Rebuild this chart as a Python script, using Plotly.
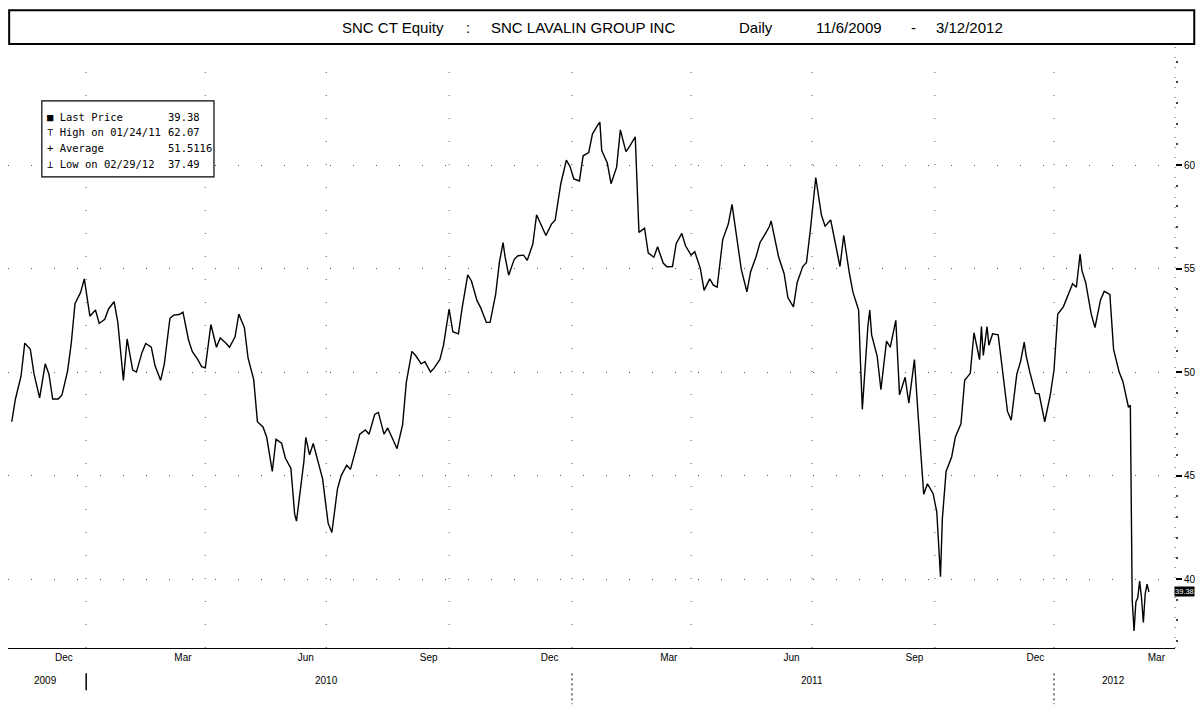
import plotly.graph_objects as go

# ---------------- data ----------------
dates_2009 = ["2009-11-06", "2009-11-10", "2009-11-13", "2009-11-17", "2009-11-20", "2009-11-24",
              "2009-11-27", "2009-12-01", "2009-12-02", "2009-12-04", "2009-12-08", "2009-12-11",
              "2009-12-15", "2009-12-18", "2009-12-22", "2009-12-24", "2009-12-29", "2009-12-31"]
close_2009 = [47.6, 48.7, 49.8, 51.4, 51.1, 49.9,
              48.75, 49.8, 50.4, 49.9, 48.7, 48.7,
              48.9, 50.05, 51.4, 53.3, 53.85, 54.5]

dates_2010 = ["2010-01-05", "2010-01-08", "2010-01-12", "2010-01-15", "2010-01-19", "2010-01-22",
              "2010-01-26", "2010-01-29", "2010-02-02", "2010-02-05", "2010-02-09", "2010-02-12",
              "2010-02-16", "2010-02-19", "2010-02-23", "2010-02-26", "2010-03-02", "2010-03-05",
              "2010-03-09", "2010-03-12", "2010-03-16", "2010-03-19", "2010-03-23", "2010-03-26",
              "2010-03-30", "2010-04-01", "2010-04-06", "2010-04-09", "2010-04-13", "2010-04-16",
              "2010-04-20", "2010-04-23", "2010-04-27", "2010-04-30", "2010-05-04", "2010-05-07",
              "2010-05-11", "2010-05-14", "2010-05-18", "2010-05-21", "2010-05-25", "2010-05-28",
              "2010-06-01", "2010-06-04", "2010-06-08", "2010-06-09", "2010-06-11", "2010-06-15",
              "2010-06-16", "2010-06-18", "2010-06-22", "2010-06-25", "2010-06-29", "2010-07-02",
              "2010-07-06", "2010-07-09", "2010-07-13", "2010-07-16", "2010-07-20", "2010-07-23",
              "2010-07-27", "2010-07-30", "2010-08-03", "2010-08-06", "2010-08-10", "2010-08-13",
              "2010-08-17", "2010-08-20", "2010-08-24", "2010-08-27", "2010-08-31", "2010-09-03",
              "2010-09-07", "2010-09-10", "2010-09-14", "2010-09-17", "2010-09-21", "2010-09-24",
              "2010-09-28", "2010-10-01", "2010-10-05", "2010-10-08", "2010-10-12", "2010-10-15",
              "2010-10-19", "2010-10-22", "2010-10-26", "2010-10-29", "2010-11-02", "2010-11-05",
              "2010-11-09", "2010-11-11", "2010-11-12", "2010-11-16", "2010-11-19", "2010-11-23",
              "2010-11-26", "2010-11-30", "2010-12-03", "2010-12-07", "2010-12-10", "2010-12-14",
              "2010-12-17", "2010-12-21", "2010-12-24", "2010-12-28", "2010-12-29", "2010-12-31"]
close_2010 = [52.7, 53.0, 52.35, 52.55, 53.05, 53.4,
              52.4, 49.6, 51.6, 50.1, 50.0, 50.95,
              51.38, 51.2, 50.3, 49.6, 50.4, 52.6,
              52.75, 52.78, 52.9, 51.55, 51.0, 50.6,
              50.26, 50.2, 52.3, 51.2, 51.65, 51.4,
              51.2, 51.7, 52.8, 52.15, 50.67, 49.65,
              47.6, 47.35, 46.85, 45.2, 46.75, 46.56,
              45.85, 45.35, 43.15, 42.8, 44.4, 45.7,
              46.85, 46.0, 46.55, 45.45, 44.85, 42.7,
              42.25, 44.35, 45.0, 45.5, 45.3, 46.3,
              47.0, 47.2, 47.0, 47.95, 48.05, 47.0,
              47.3, 46.71, 46.3, 47.45, 49.5, 51.0,
              50.8, 50.4, 50.5, 50.0, 50.2, 50.6,
              51.3, 53.04, 51.95, 51.85, 53.1, 54.7,
              54.4, 53.45, 53.1, 52.4, 52.4, 53.75,
              55.3, 56.25, 55.6, 54.68, 55.45, 55.62,
              55.65, 55.4, 56.2, 57.6, 57.0, 56.6,
              57.15, 57.35, 59.1, 59.78, 60.24, 59.92]

dates_2011 = ["2011-01-04", "2011-01-07", "2011-01-11", "2011-01-14", "2011-01-18", "2011-01-21",
              "2011-01-24", "2011-01-25", "2011-01-28", "2011-02-01", "2011-02-04", "2011-02-08",
              "2011-02-11", "2011-02-15", "2011-02-18", "2011-02-22", "2011-02-25", "2011-03-01",
              "2011-03-04", "2011-03-08", "2011-03-11", "2011-03-15", "2011-03-18", "2011-03-22",
              "2011-03-25", "2011-03-29", "2011-04-01", "2011-04-05", "2011-04-08", "2011-04-12",
              "2011-04-15", "2011-04-19", "2011-04-21", "2011-04-26", "2011-04-29", "2011-05-03",
              "2011-05-06", "2011-05-10", "2011-05-13", "2011-05-17", "2011-05-20", "2011-05-24",
              "2011-05-27", "2011-05-31", "2011-06-01", "2011-06-03", "2011-06-07", "2011-06-10",
              "2011-06-14", "2011-06-17", "2011-06-21", "2011-06-24", "2011-06-28", "2011-06-30",
              "2011-07-05", "2011-07-08", "2011-07-12", "2011-07-15", "2011-07-19", "2011-07-22",
              "2011-07-26", "2011-07-29", "2011-08-02", "2011-08-05", "2011-08-08", "2011-08-09",
              "2011-08-12", "2011-08-15", "2011-08-16", "2011-08-19", "2011-08-23", "2011-08-26",
              "2011-08-30", "2011-09-02", "2011-09-06", "2011-09-09", "2011-09-13", "2011-09-16",
              "2011-09-20", "2011-09-23", "2011-09-27", "2011-09-30", "2011-10-04", "2011-10-06",
              "2011-10-07", "2011-10-11", "2011-10-14", "2011-10-18", "2011-10-21", "2011-10-25",
              "2011-10-28", "2011-11-01", "2011-11-04", "2011-11-07", "2011-11-08", "2011-11-10",
              "2011-11-11", "2011-11-15", "2011-11-18", "2011-11-22", "2011-11-25", "2011-11-29",
              "2011-12-02", "2011-12-06", "2011-12-08", "2011-12-09", "2011-12-13", "2011-12-16",
              "2011-12-20", "2011-12-23", "2011-12-28", "2011-12-30"]
close_2011 = [59.33, 59.23, 60.45, 60.6, 61.5, 61.95,
              62.07, 60.7, 60.1, 59.1, 59.9, 61.7,
              60.65, 60.9, 61.37, 56.75, 56.95, 55.75,
              55.55, 56.05, 55.27, 55.09, 55.1, 56.2,
              56.7, 56.1, 55.65, 55.81, 55.0, 53.95,
              54.5, 54.2, 54.1, 56.4, 57.15, 58.1,
              56.1, 54.95, 53.88, 54.85, 55.6, 56.25,
              56.7, 57.02, 57.3, 56.4, 55.57, 54.75,
              53.6, 53.15, 54.33, 55.1, 55.3, 56.8,
              59.4, 57.6, 57.05, 57.35, 56.5, 55.1,
              56.6, 54.8, 53.85, 53.0, 50.5, 48.2,
              52.2, 53.0, 51.8, 50.76, 49.15, 51.5,
              51.2, 52.5, 48.9, 49.75, 48.5, 50.6,
              47.9, 44.1, 44.6, 44.14, 43.25, 40.11,
              42.9, 45.2, 45.9, 46.87, 47.5, 49.6,
              49.94, 51.9, 50.6, 52.2, 50.8, 52.2,
              51.3, 51.85, 51.8, 50.3, 48.1, 47.68,
              49.9, 50.5, 51.45, 50.8, 50.0, 48.97,
              48.95, 47.6, 48.9, 50.1]

dates_2012 = ["2012-01-03", "2012-01-06", "2012-01-10", "2012-01-13", "2012-01-17", "2012-01-19",
              "2012-01-20", "2012-01-24", "2012-01-27", "2012-01-31", "2012-02-03", "2012-02-07",
              "2012-02-10", "2012-02-14", "2012-02-17", "2012-02-21", "2012-02-24", "2012-02-27",
              "2012-02-28", "2012-02-29", "2012-03-01", "2012-03-02", "2012-03-05", "2012-03-06",
              "2012-03-07", "2012-03-08", "2012-03-09", "2012-03-12"]
close_2012 = [52.8, 53.15, 53.6, 54.27, 54.1, 55.7,
              54.9, 54.33, 52.8, 52.15, 53.5, 53.9,
              53.75, 51.1, 50.0, 49.55, 48.3, 48.4,
              39.0, 37.49, 38.9, 39.1, 39.9, 39.1,
              37.9, 39.3, 39.75, 39.38]

month_ticks = ["2009-12-16", "2010-03-16", "2010-06-16", "2010-09-16", "2010-12-16",
               "2011-03-16", "2011-06-16", "2011-09-16", "2011-12-16", "2012-03-16"]
month_labels = ["Dec", "Mar", "Jun", "Sep", "Dec", "Mar", "Jun", "Sep", "Dec", "Mar"]
year_pos = ["2009-12-02", "2010-07-01", "2011-07-01", "2012-02-14"]
year_labels = ["2009", "2010", "2011", "2012"]
year_starts = ["2010-01-01", "2011-01-01", "2012-01-01"]
quarter_lines = ["2010-01-01", "2010-04-01", "2010-07-01", "2010-10-01", "2011-01-01",
                 "2011-04-01", "2011-07-01", "2011-10-01", "2012-01-01"]
price_ticks = [40, 45, 50, 55, 60]

legend_names = ["■ Last Price", "⊤ High on 01/24/11", "+ Average", "⊥ Low on 02/29/12"]
legend_values = ["39.38", "62.07", "51.5116", "37.49"]

title_parts = ["SNC CT Equity", ":", "SNC LAVALIN GROUP INC", "Daily", "11/6/2009", "-", "3/12/2012"]

dates = dates_2009 + dates_2010 + dates_2011 + dates_2012
close = close_2009 + close_2010 + close_2011 + close_2012

# ---------------- figure ----------------
fig = go.Figure()
fig.add_trace(go.Scatter(x=dates, y=close, mode="lines",
                         line=dict(color="black", width=1.4), hoverinfo="x+y"))

MONO = "DejaVu Sans Mono, monospace"
SANS = "Liberation Sans, Arial, sans-serif"

# the page body adds an 8px margin on every side, so the figure is sized to fit exactly
fig.update_layout(
    template="none",
    width=1188, height=697,
    margin=dict(l=0, r=21, t=36, b=57, autoexpand=False),
    paper_bgcolor="white", plot_bgcolor="white",
    showlegend=False,
    font=dict(family=SANS, color="black"),
    xaxis=dict(
        type="date",
        range=["2009-11-04", "2012-03-30"],
        rangebreaks=[dict(bounds=["sat", "mon"])],
        tickmode="array", tickvals=month_ticks, ticktext=month_labels,
        ticks="", showgrid=False, zeroline=False, automargin=False,
        showline=True, linecolor="black", linewidth=1.2,
        tickfont=dict(family=SANS, size=10, color="black"),
    ),
    yaxis=dict(
        side="right",
        range=[36.67, 65.85],
        tickmode="array", tickvals=price_ticks,
        ticks="outside", ticklen=6, tickwidth=2, tickcolor="black",
        tickfont=dict(family=SANS, size=10, color="black"),
        showgrid=True, gridcolor="#555555", gridwidth=1, griddash="1px,22px",
        zeroline=False, showline=False, automargin=False,
        minor=dict(dtick=1, ticks="outside", ticklen=2, tickcolor="#444444", showgrid=False),
    ),
)

shapes = []
for q in quarter_lines:
    shapes.append(dict(type="line", xref="x", yref="paper", x0=q, x1=q, y0=0, y1=0.97,
                       line=dict(color="#555555", width=1, dash="1px,22px")))
shapes.append(dict(type="line", xref="paper", yref="paper", x0=1, x1=1, y0=0, y1=1,
                   line=dict(color="#555555", width=1, dash="1px,9px")))
for i, ys in enumerate(year_starts):
    shapes.append(dict(type="line", xref="x", yref="paper", x0=ys, x1=ys,
                       y0=-0.042, y1=-0.07 if i == 0 else -0.093,
                       line=dict(color="black", width=1.5 if i == 0 else 1,
                                 dash="solid" if i == 0 else "2px,3px")))
# title box
shapes.append(dict(type="rect", xref="paper", yref="paper", x0=0.001, x1=1.0165, y0=1.0, y1=1.056,
                   line=dict(color="black", width=2), fillcolor="rgba(0,0,0,0)"))
# legend box
shapes.append(dict(type="rect", xref="paper", yref="paper", x0=0.029, x1=0.1765, y0=0.78, y1=0.906,
                   line=dict(color="black", width=1.2), fillcolor="white"))
fig.update_layout(shapes=shapes)

ann = []
title_x = [0.3303, 0.3942, 0.4931, 0.641, 0.7207, 0.7763, 0.8239]
for txt, xp in zip(title_parts, title_x):
    ann.append(dict(text=txt, xref="paper", yref="paper", x=xp, y=1.028,
                    xanchor="center", yanchor="middle", showarrow=False,
                    font=dict(family=SANS, size=15, color="black")))
row_y = [0.879, 0.854, 0.828, 0.801]
for name, val, yy in zip(legend_names, legend_values, row_y):
    ann.append(dict(text=name, xref="paper", yref="paper", x=0.0317, y=yy,
                    xanchor="left", yanchor="middle", showarrow=False,
                    font=dict(family=MONO, size=10.5, color="black")))
    ann.append(dict(text=val, xref="paper", yref="paper", x=0.1354, y=yy,
                    xanchor="left", yanchor="middle", showarrow=False,
                    font=dict(family=MONO, size=10.5, color="black")))
for yp, yl in zip(year_pos, year_labels):
    ann.append(dict(text=yl, xref="x", yref="paper", x=yp, y=-0.053,
                    xanchor="center", yanchor="middle", showarrow=False,
                    font=dict(family=SANS, size=10, color="black")))
ann.append(dict(text="%.2f" % close[-1], xref="paper", yref="y", x=0.999, y=close[-1],
                xanchor="left", yanchor="middle", showarrow=False,
                bgcolor="black", font=dict(family=SANS, size=7.5, color="white"),
                borderpad=0))
fig.update_layout(annotations=ann)

fig.write_html("out.html")
